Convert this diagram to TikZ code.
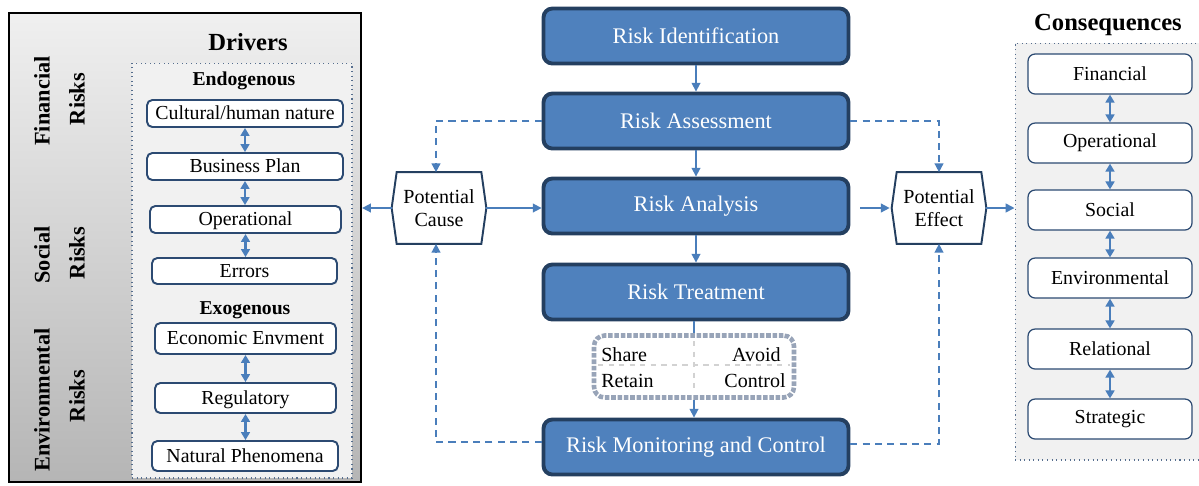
\documentclass[tikz,border=0pt]{standalone}
\usepackage{fontspec}
\setmainfont{Liberation Serif}
\usetikzlibrary{arrows.meta,calc}
\definecolor{rblue}{HTML}{4F81BD}
\definecolor{rnavy}{HTML}{243F60}
\definecolor{ablue}{HTML}{4A7EBB}
\definecolor{bnavy}{HTML}{2C4A72}
\definecolor{panelgray}{HTML}{F1F1F1}
\definecolor{optgray}{HTML}{98A4B8}
\begin{document}
\begin{tikzpicture}[x=0.02cm,y=-0.02cm,
  mainbox/.style={draw=rnavy, line width=2.2pt, fill=rblue, rounded corners=5pt,
    minimum width=6.1cm, minimum height=1.1cm, text=white, inner sep=0pt,
    font=\fontsize{12.7}{15}\selectfont},
  drvbox/.style={draw=bnavy, line width=1.1pt, fill=white, rounded corners=3pt,
    inner sep=0pt, text depth=0.5pt, font=\fontsize{11.3}{13}\selectfont},
  conbox/.style={draw=bnavy, line width=0.7pt, fill=white, rounded corners=4pt,
    minimum width=3.28cm, minimum height=0.8cm, inner sep=0pt,
    font=\fontsize{11.3}{13}\selectfont},
  hexnode/.style={minimum width=1.88cm, minimum height=1.42cm, inner sep=0pt,
    align=center, font=\fontsize{11.4}{13.5}\selectfont},
  hexline/.style={draw=rnavy, line width=1.1pt, fill=white},
  rot/.style={rotate=90, font=\bfseries\fontsize{12.7}{15}\selectfont},
  smalltxt/.style={font=\fontsize{11.4}{13}\selectfont, inner sep=0pt},
  arr/.style={-{Triangle[length=5pt,width=5pt]}, ablue, line width=0.9pt},
  darr/.style={arr, dash pattern=on 4pt off 3pt},
  dbl/.style={{Triangle[length=4.5pt,width=5pt]}-{Triangle[length=4.5pt,width=5pt]}, ablue, line width=1.2pt},
  dotpanel/.style={draw=bnavy!80, dotted, line width=0.6pt, fill=panelgray},
  ttl/.style={font=\bfseries\fontsize{14}{16}\selectfont}
]
\useasboundingbox (0,0) rectangle (1199,485);

% ---------------- Drivers panel ----------------
\node[draw=black, line width=1.3pt, top color=gray!12, bottom color=gray!58,
  minimum width=7.04cm, minimum height=9.38cm, inner sep=0pt] (drv) at (185,247.5) {};
\node[dotpanel, minimum width=4.4cm, minimum height=8.3cm] (endo) at (242,270.5) {};
\node[ttl] (tdrv) at (248,42) {Drivers};

\node[rot] (fin) at (42,101) {Financial};
\node[rot] (finr) at (77,99) {Risks};
\node[rot] (soc) at (42,255) {Social};
\node[rot] (socr) at (77,253) {Risks};
\node[rot] (env) at (42,400) {Environmental};
\node[rot] (envr) at (77,396) {Risks};

\node[font=\bfseries\fontsize{11.2}{13}\selectfont] (tendo) at (244,81) {Endogenous};
\node[drvbox, minimum width=3.92cm, minimum height=0.54cm] (cult) at (245,113.5) {Cultural/human nature};
\node[drvbox, minimum width=3.92cm, minimum height=0.54cm] (bp) at (245,166.5) {Business Plan};
\node[drvbox, minimum width=3.82cm, minimum height=0.54cm] (op) at (245.5,219.5) {Operational};
\node[drvbox, minimum width=3.70cm, minimum height=0.52cm] (err) at (244.5,271) {Errors};
\node[font=\bfseries\fontsize{11.2}{13}\selectfont] (texo) at (245,310) {Exogenous};
\node[drvbox, minimum width=3.62cm, minimum height=0.62cm] (eco) at (245.5,338.5) {Economic Envment};
\node[drvbox, minimum width=3.62cm, minimum height=0.60cm] (reg) at (245.5,398) {Regulatory};
\node[drvbox, minimum width=3.72cm, minimum height=0.60cm] (nat) at (245,456) {Natural Phenomena};

\draw[dbl] (cult.south) -- (cult.south |- bp.north);
\draw[dbl] (bp.south) -- (bp.south |- op.north);
\draw[dbl] (op.south) -- (op.south |- err.north);
\draw[dbl] (eco.south) -- (eco.south |- reg.north);
\draw[dbl] (reg.south) -- (reg.south |- nat.north);

% ---------------- Centre process ----------------
\node[mainbox] (rid) at (696,36) {Risk Identification};
\node[mainbox] (ras) at (696,121) {Risk Assessment};
\node[mainbox] (ran) at (696,206) {Risk Analysis};
\node[mainbox] (rtr) at (696,292) {Risk Treatment};
\node[mainbox] (rmc) at (696,447) {Risk Monitoring and Control};

% treatment options box
\node[draw=optgray, line width=2.6pt, densely dotted, fill=white, rounded corners=6pt,
  minimum width=4.0cm, minimum height=1.24cm] (opt) at (694,366.5) {};
\draw[gray!35, dashed, line width=0.8pt] (598,365) -- (790,365);
\draw[gray!35, dashed, line width=0.8pt] (694,341) -- (694,393);
\node[smalltxt, anchor=base west] (tsh) at (601,361) {Share};
\node[smalltxt, anchor=base east] (tav) at (781,361) {Avoid};
\node[smalltxt, anchor=base west] (tre) at (601,387) {Retain};
\node[smalltxt, anchor=base east] (tco) at (786,387) {Control};

\draw[arr] (rid.south) -- (ras.north);
\draw[arr] (ras.south) -- (ran.north);
\draw[arr] (ran.south) -- (rtr.north);
\draw[ablue, line width=0.9pt] (rtr.south -| opt.north) -- (opt.north);
\draw[arr] (opt.south) -- (opt.south |- rmc.north);

% ---------------- Hexagons ----------------
\node[hexnode] (pc) at (439,208) {};
\draw[hexline] ([xshift=0.1cm]pc.north west) -- ([xshift=-0.1cm]pc.north east) -- (pc.east)
  -- ([xshift=-0.1cm]pc.south east) -- ([xshift=0.1cm]pc.south west) -- (pc.west) -- cycle;
\node[hexnode] at (pc) {Potential\\Cause};

\node[hexnode] (pe) at (939,208) {};
\draw[hexline] ([xshift=0.1cm]pe.north west) -- ([xshift=-0.1cm]pe.north east) -- (pe.east)
  -- ([xshift=-0.1cm]pe.south east) -- ([xshift=0.1cm]pe.south west) -- (pe.west) -- cycle;
\node[hexnode] at (pe) {Potential\\Effect};

% ---------------- Consequences panel ----------------
\node[dotpanel, minimum width=3.72cm, minimum height=8.34cm] (cons) at (1108,251.5) {};
\node[ttl] (tcons) at (1108,25) {Consequences};
\node[conbox] (cfin) at (1110,74) {Financial};
\node[conbox] (cope) at (1110,143) {Operational};
\node[conbox] (csoc) at (1110,210) {Social};
\node[conbox] (cenv) at (1110,278) {Environmental};
\node[conbox] (crel) at (1110,349) {Relational};
\node[conbox] (cstr) at (1110,419) {Strategic};
\draw[dbl] (cfin.south) -- (cope.north);
\draw[dbl] (cope.south) -- (csoc.north);
\draw[dbl] (csoc.south) -- (cenv.north);
\draw[dbl] (cenv.south) -- (crel.north);
\draw[dbl] (crel.south) -- (cstr.north);

% ---------------- Connectors ----------------
\draw[arr] (pc.west) -- (pc.west -| drv.east);
\draw[arr] (pc.east) -- (pc.east -| ran.west);
\draw[arr] ([xshift=0.2cm]pe.west -| ran.east) -- ([xshift=-0.04cm]pe.west);
\draw[arr] (pe.east) -- (pe.east -| cons.west);

\draw[darr] (ras.west) -| ([xshift=-0.06cm]pc.north);
\draw[darr] (ras.east) -| (pe.north);
\draw[darr] ([yshift=0.1cm]rmc.west) -| ([xshift=-0.06cm]pc.south);
\draw[darr] ([yshift=0.06cm]rmc.east) -| (pe.south);
\end{tikzpicture}
\end{document}
